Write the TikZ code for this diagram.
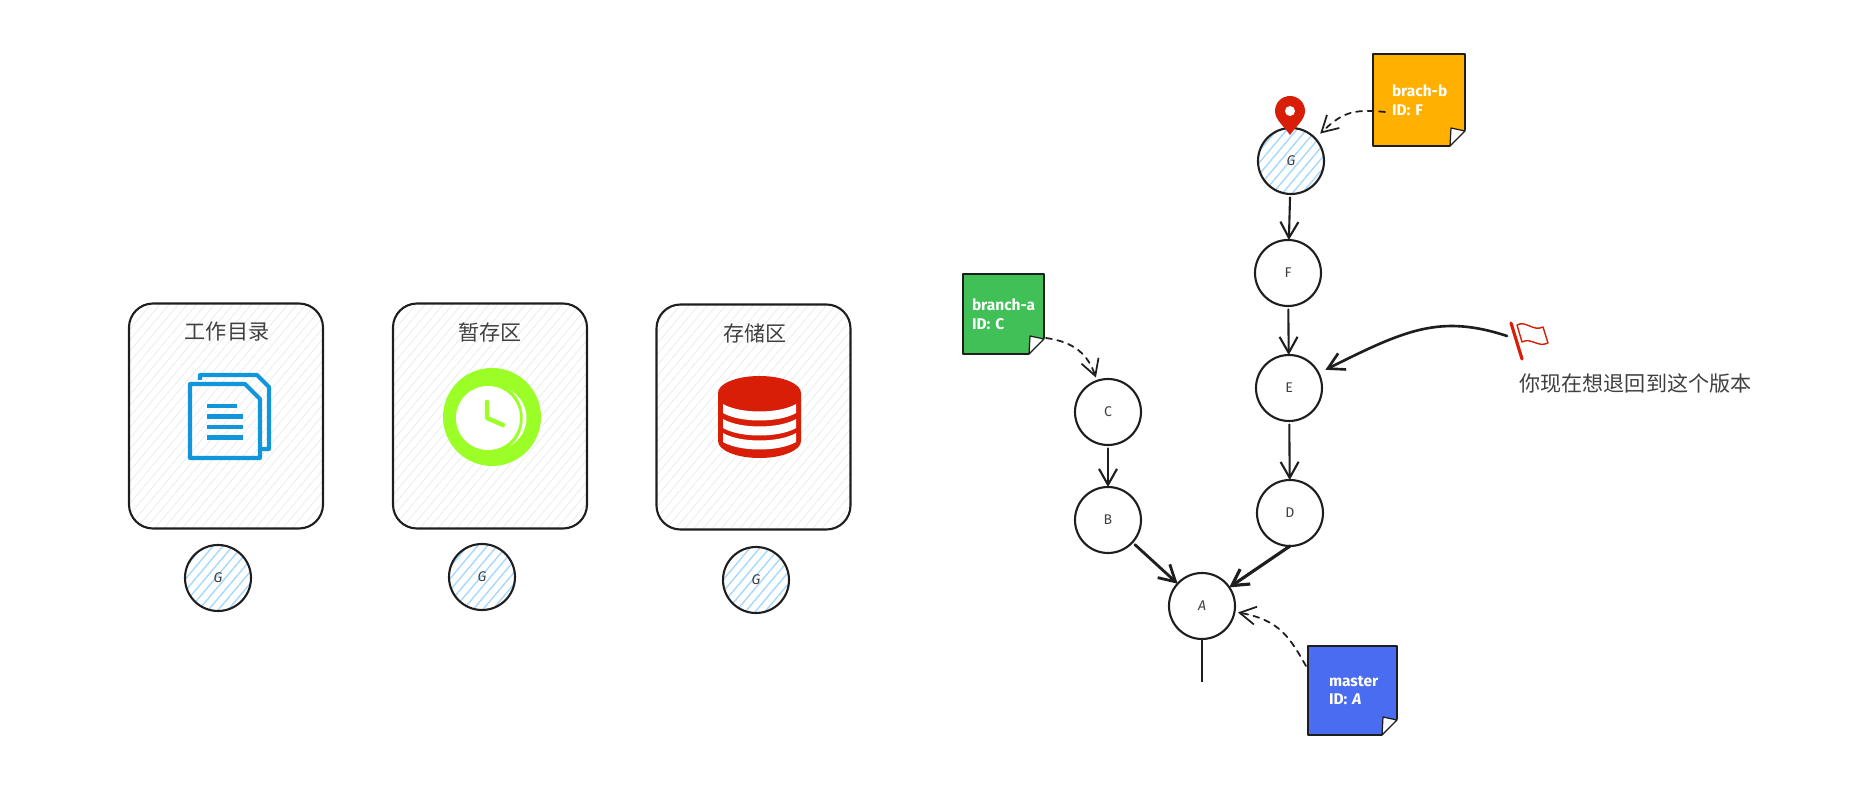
\documentclass[tikz,border=0pt]{standalone}
\usepackage{fontspec}
\setmainfont{Fira Sans}
\newfontfamily\cjk{Noto Sans CJK SC}
\usepackage{xcolor}
\usepackage{tikz}
\usetikzlibrary{arrows.meta, patterns.meta, calc}
\definecolor{inkblack}{HTML}{1E1E1E}
\definecolor{iconblue}{HTML}{1296DB}
\definecolor{clockgreen}{HTML}{9BFF27}
\definecolor{pinred}{HTML}{D81E06}
\definecolor{hatchblue}{HTML}{A5D8FF}
\definecolor{hatchgray}{HTML}{E6EAED}
\definecolor{noteamber}{HTML}{FFB000}
\definecolor{notegreen}{HTML}{40C057}
\definecolor{noteblue}{HTML}{4A6CF0}

\begin{document}
\begin{tikzpicture}[
  line join=round,
  every node/.style={inner sep=0pt, outer sep=0pt},
  area/.style={draw=inkblack, line width=0.6pt, rounded corners=0.24cm,
               minimum width=1.94cm, minimum height=2.25cm,
               pattern={Lines[angle=50,distance=0.07cm,line width=0.2pt]},
               pattern color=hatchgray},
  title/.style={font=\cjk\fontsize{6}{7}\selectfont, text=inkblack!85},
  commit/.style={circle, draw=inkblack, line width=0.6pt, minimum size=0.66cm,
                 font=\fontsize{4}{5}\selectfont, text=inkblack!85},
  head/.style={commit, pattern={Lines[angle=50,distance=0.075cm,line width=0.4pt]},
               pattern color=hatchblue},
  card/.style={draw=inkblack, line width=0.4pt, align=left, text=white,
               font=\bfseries\fontsize{4.4}{5.4}\selectfont},
  arr/.style={-{Straight Barb[length=1.6mm,width=1.8mm]}, draw=inkblack,
              line width=0.6pt, line cap=round},
  dasharr/.style={arr, line width=0.5pt, dash pattern=on 0.6mm off 0.55mm}
]
\useasboundingbox (0,0) rectangle (18.67,-8.00);

%% staging areas
\node[area] (work)  at (2.26,-4.16) {};
\node[area] (stage) at (4.90,-4.16) {};
\node[area] (store) at (7.535,-4.17) {};
\node[title] at (2.27,-3.32) {工作目录};
\node[title] at (4.90,-3.32) {暂存区};
\node[title] at (7.55,-3.33) {存储区};

\node[head] (gwork)  at (2.18,-5.78) {\itshape G};
\node[head] (gstage) at (4.82,-5.77) {\itshape G};
\node[head] (gstore) at (7.56,-5.80) {\itshape G};

% document icon
\draw[iconblue, line width=1.15pt]
  (2.00,-3.80) -- (2.00,-3.75) -- (2.57,-3.75) -- (2.69,-3.87) -- (2.69,-4.49) -- (2.62,-4.49);
\draw[iconblue, line width=1.15pt]
  (1.90,-3.84) -- (2.45,-3.84) -- (2.60,-3.99) -- (2.60,-4.58) -- (1.90,-4.58) -- cycle;
\foreach \y/\xend in {4.06/2.37, 4.165/2.43, 4.27/2.43, 4.375/2.43}
  \draw[iconblue, line width=1.3pt] (2.07,-\y) -- (\xend,-\y);

% clock icon
\fill[clockgreen] (4.92,-4.17) circle (0.49);
\fill[white] (4.88,-4.18) circle (0.32);
\fill[white] (5.10,-3.90) .. controls (5.32,-4.03) and (5.32,-4.33) .. (5.10,-4.46)
  .. controls (5.27,-4.33) and (5.27,-4.03) .. (5.10,-3.90);
\draw[clockgreen, line width=1.25pt, line cap=round]
  (4.87,-4.02) -- (4.87,-4.18) -- (5.03,-4.25);

% database icon
\fill[pinred] (7.18,-3.93) arc[start angle=180, end angle=0, x radius=0.415, y radius=0.17]
  -- (8.01,-4.41) arc[start angle=0, end angle=-180, x radius=0.415, y radius=0.17] -- cycle;
\foreach \y in {4.04, 4.19, 4.33}
  \fill[white] (7.23,-\y) .. controls (7.40,-\y-0.10) and (7.79,-\y-0.10) .. (7.96,-\y)
    -- (7.96,-\y-0.09) .. controls (7.79,-\y-0.19) and (7.40,-\y-0.19) .. (7.23,-\y-0.09) -- cycle;

%% commits
\node[head]   (G) at (12.91,-1.61) {\itshape G};
\node[commit] (F) at (12.88,-2.73) {F};
\node[commit] (E) at (12.89,-3.88) {E};
\node[commit] (D) at (12.90,-5.13) {D};
\node[commit] (C) at (11.08,-4.12) {C};
\node[commit] (B) at (11.08,-5.20) {B};
\node[commit] (A) at (12.02,-6.06) {\itshape A};
\coordinate (root) at (12.02,-6.82);

\foreach \a/\b in {G/F, F/E, E/D, C/B}
  \draw[arr, shorten <=1pt] (\a)--(\b);
\draw[arr, line width=0.9pt] (D.south)--(A);
\draw[arr, line width=0.8pt, shorten <=1pt] (B)--(A);
\draw[draw=inkblack, line width=0.5pt] (A)--(root);

% location pin
\fill[pinred] (12.90,-1.35) .. controls (12.84,-1.26) and (12.75,-1.20) .. (12.75,-1.11)
  arc[start angle=180, end angle=0, radius=0.15]
  .. controls (13.05,-1.20) and (12.96,-1.26) .. (12.90,-1.35) -- cycle;
\fill[white] (12.90,-1.11) circle (0.05);

%% branch notes
\node[card, fill=noteamber, minimum width=0.92cm, minimum height=0.92cm,
      inner xsep=0.19cm, text width=0.54cm] (bcard) at (14.19,-1.00) {\mbox{brach-b}\\ID: F};
\node[card, fill=notegreen, minimum width=0.81cm, minimum height=0.80cm,
      inner xsep=0.09cm, text width=0.63cm] (acard) at (10.035,-3.14) {\mbox{branch-a}\\ID: C};
\node[card, fill=noteblue, minimum width=0.89cm, minimum height=0.89cm,
      inner xsep=0.21cm, text width=0.47cm] (mcard) at (13.525,-6.905) {\mbox{master}\\ID: \textit{A}};

\foreach \n in {bcard,acard,mcard} {
  \fill[white] ($(\n.south east)+(-0.15,-0.01)$) -- ($(\n.south east)+(0.01,-0.01)$)
    -- ($(\n.south east)+(0.01,0.16)$) -- cycle;
  \draw[draw=inkblack, line width=0.35pt, fill=white] ($(\n.south east)+(-0.15,0)$)
    -- ($(\n.south east)+(0,0.15)$) -- ($(\n.south east)+(-0.14,0.18)$) -- cycle;
}

\coordinate (btail) at (13.85,-1.12);
\coordinate (atail) at (10.46,-3.38);
\coordinate (mtail) at (13.06,-6.66);

\draw[dasharr, shorten >=2pt] (btail) .. controls (13.50,-1.08) and (13.40,-1.15) .. (G);
\draw[dasharr, shorten >=1pt] (atail) .. controls (10.75,-3.42) and (10.88,-3.55) .. (C);
\draw[dasharr, shorten >=1pt] (mtail) .. controls (12.90,-6.38) and (12.80,-6.20) .. (A);

%% rollback marker
\draw[pinred, line width=0.9pt, line cap=round] (15.11,-3.23) -- (15.22,-3.59);
\draw[pinred, line width=0.4pt] (15.17,-3.25) .. controls (15.26,-3.20) and (15.33,-3.32) .. (15.43,-3.27)
  -- (15.48,-3.43) .. controls (15.38,-3.48) and (15.31,-3.37) .. (15.22,-3.42) -- cycle;
\coordinate (flagtail) at (15.07,-3.36);
\draw[arr, line width=0.75pt, shorten >=2.2pt] (flagtail) .. controls (14.40,-3.14) and (14.05,-3.30) .. (E);

\node[title] (wish) at (16.355,-3.83) {你现在想退回到这个版本};
\end{tikzpicture}
\end{document}
